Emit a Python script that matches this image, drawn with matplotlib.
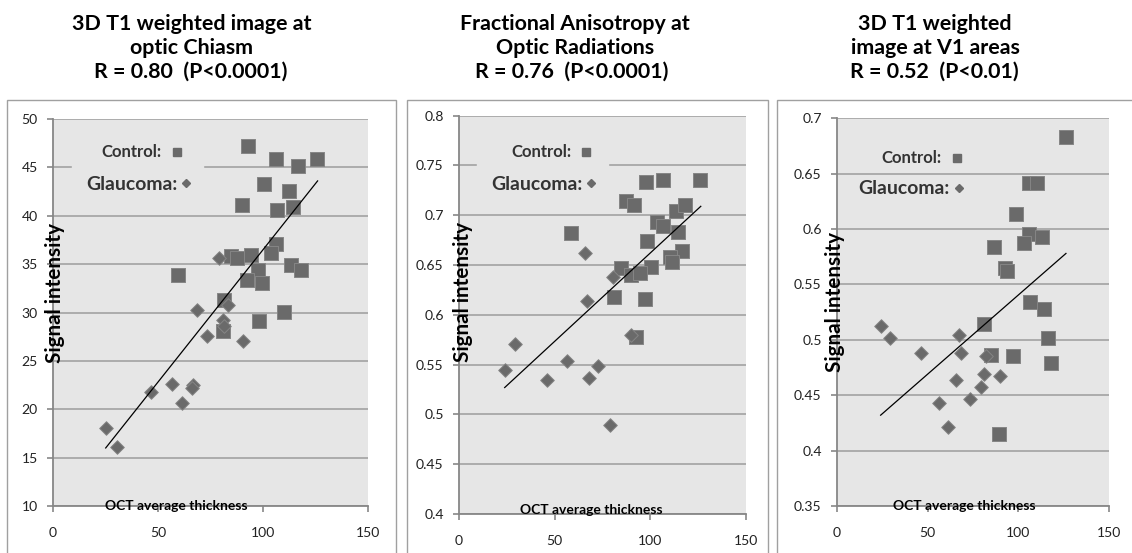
import matplotlib
matplotlib.use("Agg")
import matplotlib.pyplot as plt
from matplotlib.patches import Rectangle
from matplotlib.lines import Line2D

# ---------------- data ----------------
title_lines = [
    ["3D T1 weighted image at", "optic Chiasm", "R = 0.80  (P<0.0001)"],
    ["Fractional Anisotropy at", "Optic Radiations", "R = 0.76  (P<0.0001)"],
    ["3D T1 weighted", "image at V1 areas", "R = 0.52  (P<0.01)"],
]
x_ticks = [0, 50, 100, 150]
y_ticks_1 = [10, 15, 20, 25, 30, 35, 40, 45, 50]
y_ticks_2 = [0.4, 0.45, 0.5, 0.55, 0.6, 0.65, 0.7, 0.75, 0.8]
y_ticks_3 = [0.35, 0.4, 0.45, 0.5, 0.55, 0.6, 0.65, 0.7]

# Panel 1: optic chiasm T1
ctrl_x_1 = [93.0, 106.2, 116.7, 125.7, 100.4, 112.3, 90.2, 106.9, 114.5, 106.2, 103.7,
            84.8, 87.5, 94.2, 97.8, 92.3, 99.4, 113.4, 118.0, 59.6, 81.6, 81.1, 98.1, 110.1]
ctrl_y_1 = [47.2, 45.9, 45.1, 45.9, 43.3, 42.6, 41.1, 40.6, 40.9, 37.1, 36.1,
            35.8, 35.6, 35.9, 34.4, 33.4, 33.1, 34.9, 34.4, 33.9, 31.3, 28.1, 29.1, 30.1]
glau_x_1 = [25.1, 30.5, 46.9, 56.9, 61.2, 66.8, 68.7, 73.5, 79.2, 81.1, 83.5, 90.3, 81.6, 66.0]
glau_y_1 = [18.1, 16.1, 21.8, 22.6, 20.6, 22.5, 30.3, 27.6, 35.6, 29.2, 30.8, 27.1, 28.6, 22.2]
trend_x_1 = [25.1, 126.0]
trend_y_1 = [16.0, 43.6]

# Panel 2: FA optic radiations
ctrl_x_2 = [98.0, 106.7, 126.1, 87.6, 91.6, 113.7, 118.1, 103.8, 106.7, 114.6, 58.8,
            98.5, 116.7, 110.2, 111.4, 85.0, 100.3, 90.2, 94.5, 81.1, 97.2, 92.4]
ctrl_y_2 = [0.733, 0.735, 0.735, 0.714, 0.710, 0.704, 0.710, 0.693, 0.689, 0.683, 0.682,
            0.674, 0.664, 0.658, 0.653, 0.647, 0.648, 0.640, 0.642, 0.618, 0.616, 0.578]
glau_x_2 = [23.9, 29.1, 46.2, 56.5, 65.9, 67.2, 67.9, 72.9, 79.2, 80.6, 89.8]
glau_y_2 = [0.545, 0.571, 0.535, 0.554, 0.662, 0.614, 0.537, 0.549, 0.489, 0.638, 0.580]
trend_x_2 = [23.9, 126.5]
trend_y_2 = [0.527, 0.709]

# Panel 3: T1 V1 areas
ctrl_x_3 = [126.4, 106.2, 110.4, 98.8, 106.2, 103.4, 113.2, 86.9, 92.9, 93.7, 106.8,
            114.5, 81.0, 116.3, 85.2, 97.4, 118.4, 89.6]
ctrl_y_3 = [0.683, 0.642, 0.642, 0.614, 0.596, 0.587, 0.593, 0.584, 0.565, 0.562, 0.534,
            0.528, 0.514, 0.502, 0.486, 0.485, 0.479, 0.415]
glau_x_3 = [24.1, 29.5, 46.2, 56.3, 61.1, 65.9, 67.2, 68.5, 73.4, 79.7, 81.0, 82.3, 90.2]
glau_y_3 = [0.5125, 0.502, 0.488, 0.443, 0.421, 0.464, 0.504, 0.488, 0.447, 0.457, 0.469, 0.485, 0.467]
trend_x_3 = [24.1, 126.4]
trend_y_3 = [0.432, 0.578]

legend_labels = ["Control:", "Glaucoma:"]
y_label = "Signal intensity"
x_label = "OCT average thickness"

# ---------------- style ----------------
BG = "#e6e6e6"
MK = "#6a6a6a"
MKE = "#858585"
GRID = "#9c9c9c"
AX = "#878787"
BORDER = "#a0a0a0"
FONT = ["Lato", "DejaVu Sans"]
plt.rcParams["font.family"] = FONT

W, H = 1132, 553
fig = plt.figure(figsize=(W / 100, H / 100), dpi=100)
renderer = fig.canvas.get_renderer()

def px_axes(l, r, t, b):
    return [l / W, 1 - b / H, (r - l) / W, (b - t) / H]

panels = [
    dict(rect=px_axes(53, 368, 119, 506), ylim=(10, 50), yt=y_ticks_1,
         cx=ctrl_x_1, cy=ctrl_y_1, gx=glau_x_1, gy=glau_y_1, tx=trend_x_1, ty=trend_y_1,
         ylab=(55, 293), xlab=(176, 506.5), title_x=[192, 192, 191],
         leg_c=(162, 152), leg_g=(177, 184), leg_frame=True,
         border=(7, 396)),
    dict(rect=px_axes(459, 745.7, 115.7, 514), ylim=(0.4, 0.8), yt=y_ticks_2,
         cx=ctrl_x_2, cy=ctrl_y_2, gx=glau_x_2, gy=glau_y_2, tx=trend_x_2, ty=trend_y_2,
         ylab=(463, 292.5), xlab=(591.5, 510), title_x=[575, 575, 572],
         leg_c=(571, 152), leg_g=(582, 184), leg_frame=True,
         border=(406.5, 768)),
    dict(rect=px_axes(837, 1108.7, 118.3, 506), ylim=(0.35, 0.7), yt=y_ticks_3,
         cx=ctrl_x_3, cy=ctrl_y_3, gx=glau_x_3, gy=glau_y_3, tx=trend_x_3, ty=trend_y_3,
         ylab=(835, 302.5), xlab=(964.5, 506), title_x=[935, 935, 934],
         leg_c=(942, 158), leg_g=(950, 189), leg_frame=False,
         border=(777, 1140)),
]

title_baselines = [29.5, 53.5, 77.5]

def fit_size(txt, target, use_height=False):
    for _ in range(3):
        bb = txt.get_window_extent(renderer)
        cur = bb.height if use_height else bb.width
        txt.set_fontsize(txt.get_fontsize() * target / cur)

axes = []
ylabels, xlabels, legends = [], [], []
for p in panels:
    l, r = p["border"]
    fig.patches.append(Rectangle((l / W, -0.1), (r - l) / W, 1 - 100 / H + 0.1,
                                 transform=fig.transFigure, fill=False,
                                 edgecolor=BORDER, linewidth=1.0, zorder=0))
    ax = fig.add_axes(p["rect"])
    axes.append(ax)
    ax.set_facecolor(BG)
    ax.set_xlim(0, 150)
    ax.set_ylim(*p["ylim"])
    ax.set_xticks(x_ticks)
    ax.set_yticks(p["yt"])
    ax.set_yticklabels([f"{v:g}" for v in p["yt"]])
    ax.yaxis.grid(True, color=GRID, linewidth=1.1)
    ax.set_axisbelow(True)
    for s in ("top", "right"):
        ax.spines[s].set_visible(False)
    for s in ("left", "bottom"):
        ax.spines[s].set_color(AX)
        ax.spines[s].set_linewidth(1.3)
    ax.tick_params(axis="both", colors=AX, length=4, width=1.2, labelcolor="#222222",
                   labelsize=11)
    ax.tick_params(axis="x", pad=11)
    ax.tick_params(axis="y", pad=7)

    ax.scatter(p["cx"], p["cy"], marker="s", s=115, color=MK, edgecolors=MKE,
               linewidths=0.7, zorder=3)
    ax.scatter(p["gx"], p["gy"], marker="D", s=48, color=MK, edgecolors=MKE,
               linewidths=0.7, zorder=3)
    ax.plot(p["tx"], p["ty"], color="black", linewidth=0.9, zorder=4)

    # legend: two single-entry legends so each row can be placed like the original
    h1 = Line2D([], [], marker="s", linestyle="none", markersize=6, color=MK)
    h2 = Line2D([], [], marker="D", linestyle="none", markersize=4, color=MK)
    lg = ax.legend([h2], [legend_labels[1]], loc="center right",
                   bbox_to_anchor=(p["leg_g"][0] / W, 1 - p["leg_g"][1] / H),
                   bbox_transform=fig.transFigure, markerfirst=False,
                   frameon=p["leg_frame"], facecolor=BG, edgecolor=BG, framealpha=1,
                   fancybox=False, handlelength=0.45, handletextpad=0.25,
                   borderpad=0.75, borderaxespad=0,
                   prop=dict(family=FONT, weight="bold", size=13))
    lg.set_zorder(2)
    ax.add_artist(lg)
    lc = ax.legend([h1], [legend_labels[0]], loc="center right",
                   bbox_to_anchor=(p["leg_c"][0] / W, 1 - p["leg_c"][1] / H),
                   bbox_transform=fig.transFigure, markerfirst=False,
                   frameon=False, handlelength=0.9, handletextpad=0.6,
                   borderpad=0.3, borderaxespad=0,
                   prop=dict(family=FONT, weight="bold", size=10.5))
    lc.set_zorder(2)
    legends.append((lc, p["leg_c"]))
    legends.append((lg, p["leg_g"]))
    for L in (lc, lg):
        for t in L.get_texts():
            t.set_color("#333333")

    yl = fig.text(p["ylab"][0] / W, 1 - p["ylab"][1] / H, y_label, rotation=90,
                  ha="center", va="center", fontsize=13.5, fontweight="bold",
                  color="black", zorder=5)
    xl = fig.text(p["xlab"][0] / W, 1 - p["xlab"][1] / H, x_label,
                  ha="center", va="center", fontsize=10, fontweight="bold",
                  color="black", zorder=5)
    ylabels.append(yl)
    xlabels.append(xl)

title_texts = []
for p, lines in zip(panels, title_lines):
    row = []
    for cx, yb, s in zip(p["title_x"], title_baselines, lines):
        row.append(fig.text(cx / W, 1 - yb / H, s, ha="center", va="baseline",
                            fontsize=15, fontweight="bold", color="black"))
    title_texts.append(row)

# --- size the texts to the widths measured on the original ---
fit_size(title_texts[0][0], 240)
tfs = title_texts[0][0].get_fontsize()
for row in title_texts:
    for t in row:
        t.set_fontsize(tfs)
fit_size(ylabels[0], 140, use_height=True)
fit_size(xlabels[0], 142)
for t in ylabels:
    t.set_fontsize(ylabels[0].get_fontsize())
for t in xlabels:
    t.set_fontsize(xlabels[0].get_fontsize())

fig.canvas.draw()
lab100 = [t for t in axes[0].get_xticklabels() if t.get_text() == "100"][0]
cur = lab100.get_window_extent(renderer).width
tick_fs = 11 * 24.5 / cur
for ax in axes:
    ax.tick_params(labelsize=tick_fs)

c_txt = legends[0][0].get_texts()[0]
g_txt = legends[1][0].get_texts()[0]
fit_size(c_txt, 60)
fit_size(g_txt, 91)
for L, _ in legends[2:]:
    t = L.get_texts()[0]
    t.set_fontsize(c_txt.get_fontsize() if t.get_text() == "Control:" else g_txt.get_fontsize())

# --- shift each legend so its label ends where the original's does ---
fig.canvas.draw()
for L, (xr, yc) in legends:
    bb = L.get_texts()[0].get_window_extent(renderer)
    dx = xr - bb.x1
    dy = (H - yc) - (bb.y0 + bb.y1) / 2
    ax0, ay0 = L.get_bbox_to_anchor().x0, L.get_bbox_to_anchor().y0
    L.set_bbox_to_anchor(((ax0 + dx) / W, (ay0 + dy) / H), transform=fig.transFigure)

fig.savefig("out.png", dpi=100)
